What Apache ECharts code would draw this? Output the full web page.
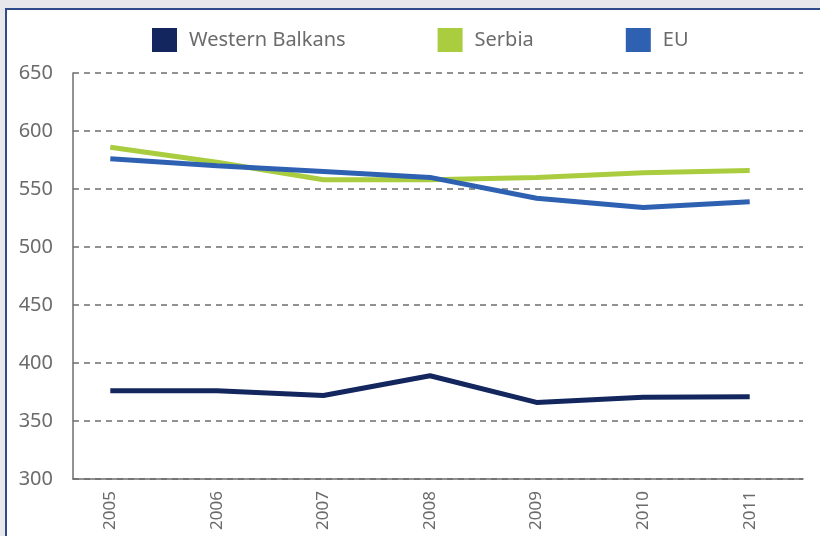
<!DOCTYPE html>
<html>
<head>
<meta charset="utf-8">
<script src="https://cdn.jsdelivr.net/npm/echarts@6/dist/echarts.min.js"></script>
<style>
  html, body { margin:0; padding:0; background:#e8e8ec; }
  #frame { position:absolute; left:5px; top:8px; width:815px; height:528px; background:#fff; border-left:2px solid #2f4b8c; border-top:2px solid #2f4b8c; box-sizing:border-box; }
  #chart { position:absolute; left:0; top:0; width:820px; height:536px; }
</style>
</head>
<body>
<div id="frame"></div>
<div id="chart"></div>
<script>
(function(){
  var years = [2005, 2006, 2007, 2008, 2009, 2010, 2011];
  var westernBalkans = [376, 376, 372, 389, 366, 370.5, 371];
  var serbia = [586, 573, 558, 558, 560, 564, 566];
  var eu = [576, 570, 565, 560, 542, 534, 539];
  var yTicks = [300, 350, 400, 450, 500, 550, 600, 650];

  var muted = '#6b6b6b';
  var rule = '#6e6e6e';
  var font = '"Noto Sans", "DejaVu Sans", sans-serif';
  function pairs(vals) {
    return years.map(function(y, i){ return [y, vals[i]]; });
  }
  function line(name, vals, color) {
    return { name:name, type:'line', data:pairs(vals), symbol:'none', lineStyle:{width:5, color:color}, itemStyle:{color:color} };
  }

  var el = document.getElementById('chart');
  var c = echarts.init(el, null, {renderer:'canvas'});
  c.setOption({
    animation:false,
    legend:{
      top:23, left:147, itemWidth:25, itemHeight:24, itemGap:92, icon:'rect',
      textStyle:{color:muted, fontSize:20, fontFamily:font, padding:[0,0,0,7]},
      data:['Western Balkans', 'Serbia', 'EU']
    },
    grid:{left:73, right:17, top:73, bottom:57, containLabel:false},
    xAxis:{
      type:'value', min:2004.65, max:2011.5,
      axisLine:{lineStyle:{color:rule, width:1.5}},
      axisTick:{show:false},
      splitLine:{show:false},
      axisLabel:{customValues:years, rotate:90, margin:12, color:muted, fontSize:17, fontFamily:font, formatter:function(v){ return String(v); }}
    },
    yAxis:{
      type:'value', min:yTicks[0], max:yTicks[yTicks.length-1], interval:50,
      axisLine:{show:true, lineStyle:{color:rule, width:1.5}},
      axisTick:{show:false},
      axisLabel:{color:muted, fontSize:20, margin:20, fontFamily:font},
      splitLine:{lineStyle:{color:rule, width:1.5, type:[6,5]}}
    },
    series:[
      line('Western Balkans', westernBalkans, '#13275e'),
      line('Serbia', serbia, '#a9cd3e'),
      line('EU', eu, '#2f61b2')
    ]
  });
})();
</script>
</body>
</html>
